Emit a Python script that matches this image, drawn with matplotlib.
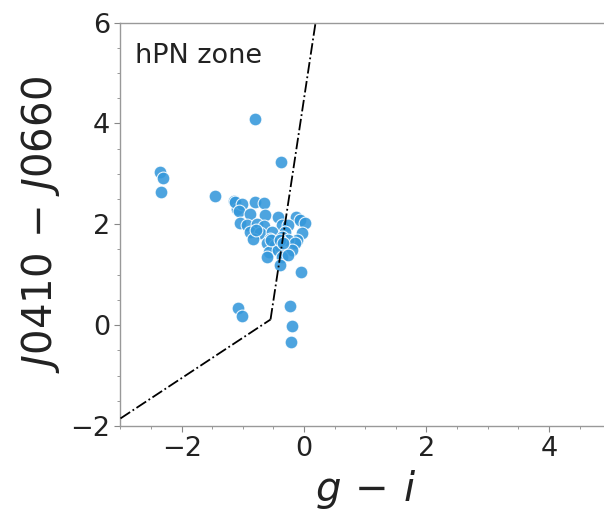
import matplotlib
matplotlib.use("Agg")
import matplotlib.pyplot as plt
import numpy as np
from matplotlib.ticker import MultipleLocator

# data: g - i colour and J0410 - J0660 colour
g_i = [-0.80, -0.38, -1.45, -2.35, -2.31, -2.34,
       -1.14, -1.09, -1.13, -1.02, -0.80, -0.66, -1.07, -0.88, -0.64, -0.42,
       -0.13, -0.07, 0.02, -1.05, -0.94, -0.77, -0.66, -0.36, -0.26, -0.88,
       -0.72, -0.53, -0.31, -0.04, -0.83, -0.56, -0.36, -0.12, -0.26, -0.61,
       -0.47, -0.15, -0.58, -0.42, -0.20, -0.61, -0.36, -0.26, -0.39, -0.05,
       -1.08, -1.02, -0.23, -0.19, -0.21, -0.54, -0.39, -0.34, -0.78]
j0410_j0660 = [4.09, 3.23, 2.56, 3.04, 2.92, 2.63,
               2.47, 2.31, 2.44, 2.41, 2.44, 2.42, 2.26, 2.20, 2.18, 2.14,
               2.14, 2.09, 2.03, 2.03, 1.98, 2.01, 1.96, 1.98, 1.98, 1.85,
               1.83, 1.85, 1.85, 1.82, 1.70, 1.70, 1.75, 1.68, 1.68, 1.62,
               1.58, 1.62, 1.45, 1.49, 1.49, 1.35, 1.35, 1.39, 1.19, 1.06,
               0.33, 0.18, 0.38, -0.01, -0.34, 1.68, 1.68, 1.63, 1.88]

# hPN zone boundary lines: y = a*x + b
upper_slope, upper_icpt = 8.0, 4.50
lower_slope, lower_icpt = 0.8, 0.55

fig = plt.figure(figsize=(6.04, 5.13), dpi=100)
ax = fig.add_axes([0.1995, 0.1696, 0.8106, 0.7865])

# boundary
x_kink = (lower_icpt - upper_icpt) / (upper_slope - lower_slope)
xl = np.array([-3.0, x_kink])
xu = np.array([x_kink, (6.0 - upper_icpt) / upper_slope])
ax.plot(xl, lower_slope * xl + lower_icpt, color="black", ls="-.", lw=1.3, zorder=3)
ax.plot(xu, upper_slope * xu + upper_icpt, color="black", ls="-.", lw=1.3, zorder=3)

ax.scatter(g_i, j0410_j0660, s=85, color="#3498db", alpha=0.88,
           edgecolors="white", linewidths=0.8, zorder=2)

ax.set_xlim(-3, 5)
ax.set_ylim(-2, 6)
ax.xaxis.set_major_locator(MultipleLocator(2))
ax.yaxis.set_major_locator(MultipleLocator(2))
ax.xaxis.set_minor_locator(MultipleLocator(0.5))
ax.yaxis.set_minor_locator(MultipleLocator(0.5))
for s in ax.spines.values():
    s.set_color("#999999")
    s.set_linewidth(1.0)
ax.spines["right"].set_visible(False)
ax.tick_params(which="both", colors="#888888", labelcolor="#222222")
ax.tick_params(which="major", labelsize=19.5, length=4)
ax.tick_params(which="minor", length=2.5)

ax.set_xlabel(r"$g\,-\,i$", fontsize=29, color="#222222", labelpad=4)
ax.set_ylabel(r"$J0410\,-\,J0660$", fontsize=29, color="#222222", labelpad=6)

ax.text(0.03, 0.95, "hPN zone", transform=ax.transAxes, fontsize=19.5,
        color="#222222", ha="left", va="top")

fig.savefig("out.png", dpi=100)
